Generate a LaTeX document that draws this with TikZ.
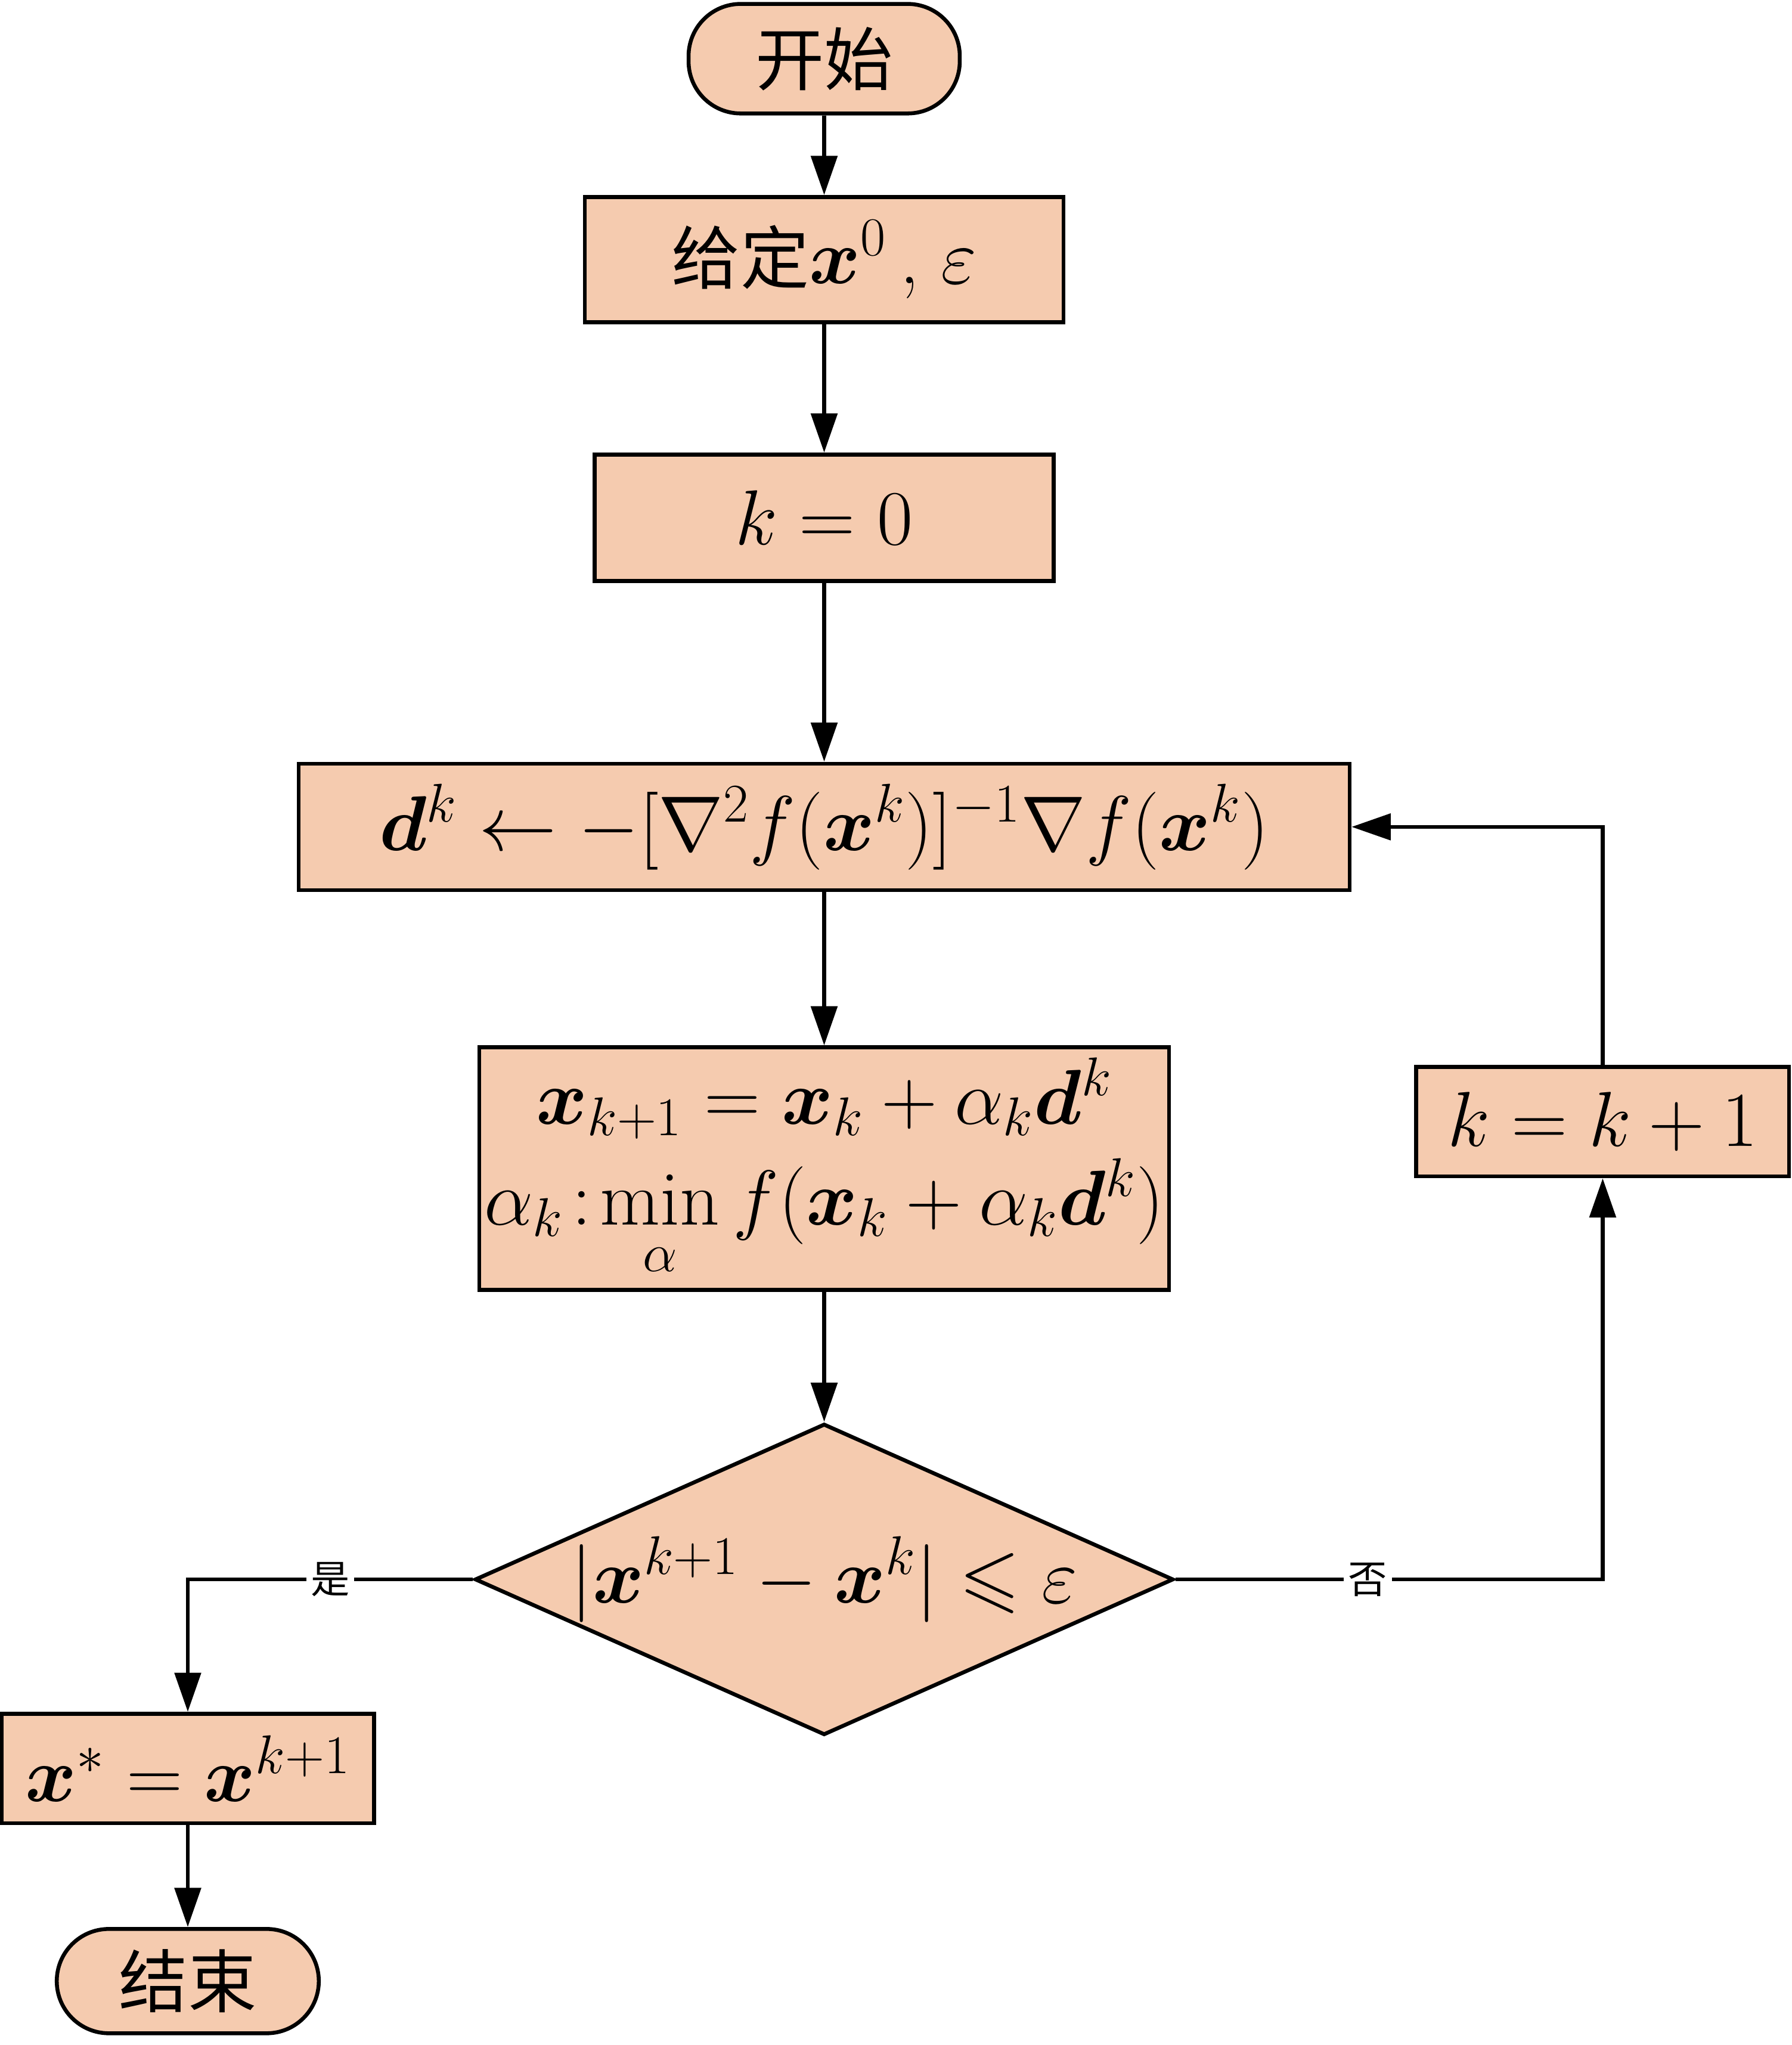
\RequirePackage{fix-cm}
\documentclass[tikz,border=0pt]{standalone}
\usepackage{amsmath,amssymb,bm}
\usepackage{fontspec}
\newfontfamily\cjk{Noto Sans CJK SC}
\usetikzlibrary{shapes.geometric,arrows.meta}
\definecolor{boxfill}{HTML}{F5CBAF}
\tikzset{
 base/.style={draw=black,line width=1.7pt,fill=boxfill,font=\fontsize{34}{40}\selectfont,inner sep=0pt},
 proc/.style={base,rectangle},
 term/.style={base,rounded corners=0.8cm},
 dec/.style={base,diamond,aspect=2.245},
 conn/.style={line width=1.7pt,-{Triangle[length=0.6cm,width=0.4cm]}},
 lab/.style={fill=white,inner sep=2pt,font=\cjk\fontsize{17}{20}\selectfont}
}
\begin{document}
\begin{tikzpicture}[x=0.02cm,y=-0.02cm]
\useasboundingbox (0,0) rectangle (1374,1568);
\node[term,minimum width=4.16cm,minimum height=1.68cm,font=\cjk\fontsize{30}{36}\selectfont] (start) at (632,45) {开始};
\node[proc,minimum width=7.34cm,minimum height=1.92cm] (given) at (632,199) {{\cjk\fontsize{30}{36}\selectfont 给定}$\bm{x}^0$\,,\;$\varepsilon$};
\node[proc,minimum width=7.04cm,minimum height=1.94cm] (k0) at (632,397) {$k=0$};
\node[proc,minimum width=16.12cm,minimum height=1.94cm] (d) at (632,634) {$\bm{d}^k\leftarrow-[\nabla^2 f(\bm{x}^k)]^{-1}\nabla f(\bm{x}^k)$};
\node[proc,minimum width=10.58cm,minimum height=3.72cm,align=center] (upd) at (632,896) {$\bm{x}_{k+1}=\bm{x}_k+\alpha_k\bm{d}^k$\\[4pt]$\alpha_k\!:\!\min\limits_{\alpha} f(\bm{x}_k+\alpha_k\bm{d}^k)$};
\node[dec,minimum width=10.06cm,minimum height=4.48cm] (cond) at (632,1211) {$|\bm{x}^{k+1}-\bm{x}^k|\leqslant\varepsilon$};
\node[proc,minimum width=5.72cm,minimum height=1.68cm] (inc) at (1229,860) {$k=k+1$};
\node[proc,minimum width=5.72cm,minimum height=1.68cm] (xs) at (144,1356) {$\bm{x}^*=\bm{x}^{k+1}$};
\node[term,minimum width=4.02cm,minimum height=1.6cm,font=\cjk\fontsize{30}{36}\selectfont] (end) at (144,1519) {结束};
\coordinate (c1) at (1229,1211);
\coordinate (c2) at (1229,634);
\coordinate (c3) at (144,1211);
\draw[conn] (start) -- (given);
\draw[conn] (given) -- (k0);
\draw[conn] (k0) -- (d);
\draw[conn] (d) -- (upd);
\draw[conn] (upd) -- (cond);
\draw[conn] (cond.east) -- node[lab,pos=0.45]{否} (c1) -- (inc.south);
\draw[conn] (inc.north) -- (c2) -- (d.east);
\draw[conn] (cond.west) -- node[lab,pos=0.5]{是} (c3) -- (xs.north);
\draw[conn] (xs) -- (end);
\end{tikzpicture}
\end{document}
